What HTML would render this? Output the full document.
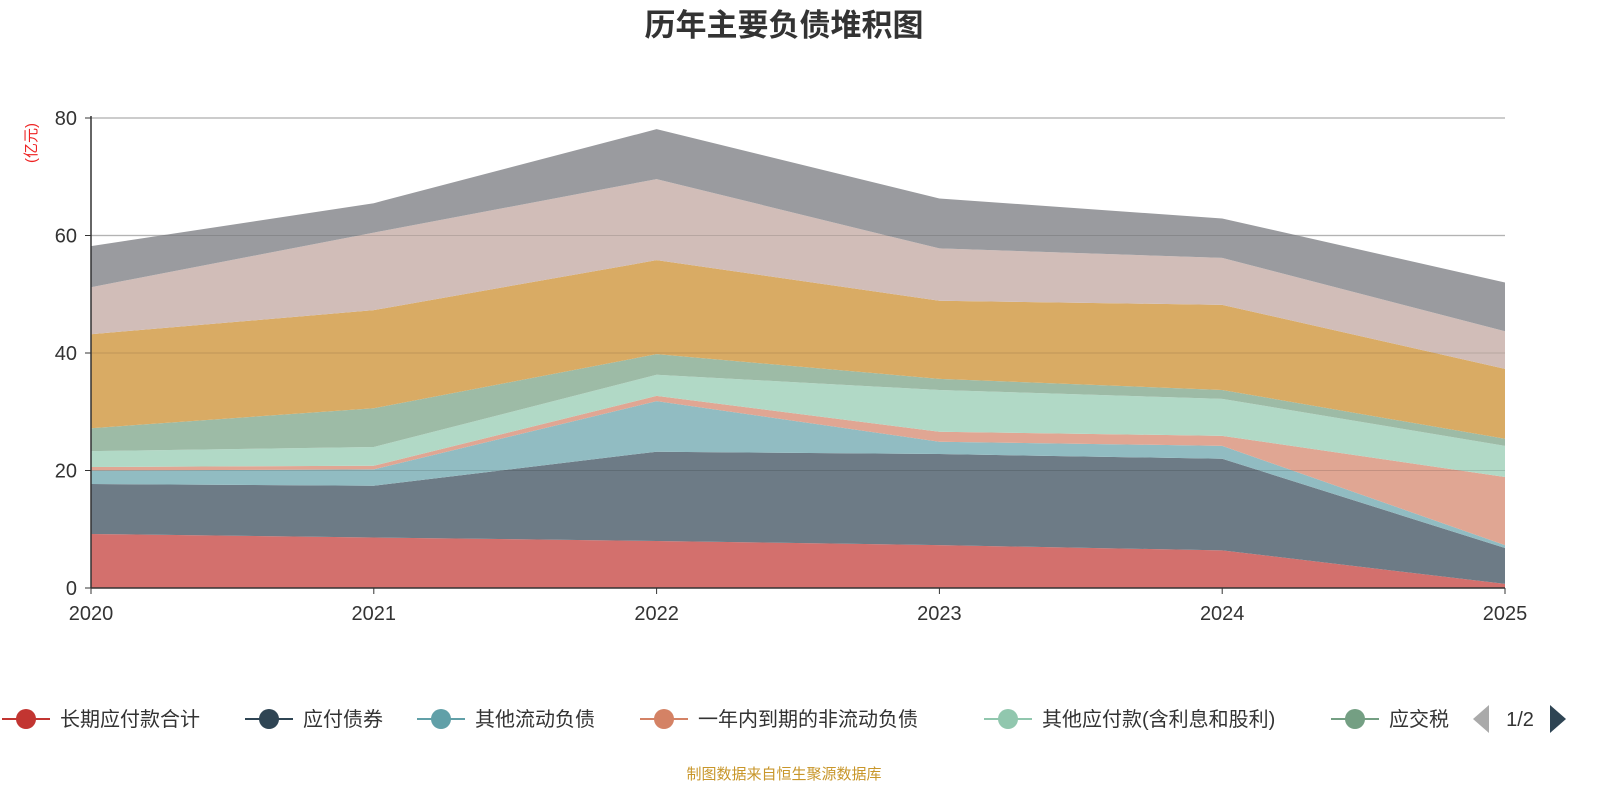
<!DOCTYPE html>
<html><head><meta charset="utf-8"><style>
body{margin:0;background:#fff;font-family:"Liberation Sans","Noto Sans CJK SC",sans-serif}
</style></head><body>
<svg id="chart" width="1600" height="800" xmlns="http://www.w3.org/2000/svg" font-family="Liberation Sans, Noto Sans CJK SC, sans-serif">
<text x="784" y="36" text-anchor="middle" font-size="31" font-weight="bold" fill="#333">历年主要负债堆积图</text>
<text transform="translate(36,143) rotate(-90)" text-anchor="middle" font-size="15" fill="#e22">(亿元)</text>
<g id="grid"></g><g id="areas"></g><g id="overlay"></g><g id="axes"></g><g id="legend"></g>
<text x="784" y="779" text-anchor="middle" font-size="15" fill="#c8962a">制图数据来自恒生聚源数据库</text>
</svg>
<script>
const years=["2020","2021","2022","2023","2024","2025"];
const yTicks=[0,20,40,60,80];
const seriesNames=["长期应付款合计","应付债券","其他流动负债","一年内到期的非流动负债","其他应付款(含利息和股利)","应交税费","应付账款","合同负债","短期借款"];
const s1=[9.2,8.6,8.0,7.3,6.4,0.7];
const s2=[8.5,8.8,15.2,15.5,15.6,6.1];
const s3=[2.3,2.8,8.6,2.1,2.2,0.5];
const s4=[0.6,0.6,0.9,1.7,1.7,11.6];
const s5=[2.7,3.2,3.6,7.1,6.3,5.3];
const s6=[3.9,6.6,3.5,1.9,1.5,1.2];
const s7=[16.0,16.7,16.0,13.3,14.5,11.9];
const s8=[8.0,13.2,13.8,8.9,8.0,6.4];
const s9=[7.0,5.0,8.5,8.5,6.7,8.3];
const seriesValues=[s1,s2,s3,s4,s5,s6,s7,s8,s9];
const fills=["#d3706d","#6d7b86","#91bcc2","#e0a693","#b1d9c6","#9dbba6","#d9ab64","#d1bdb8","#9a9b9f"];
const lineCols=["#c23531","#2f4554","#61a0a8","#d48265","#91c7ae","#749f83","#ca8622","#bda29a","#6e7074"];
const X0=91,X1=1505,Y0=588,Y1=118,YMAX=80;
const xs=i=>X0+(X1-X0)*i/(years.length-1);
const ys=v=>Y0-(Y0-Y1)*v/YMAX;
const NS="http://www.w3.org/2000/svg";
function mk(tag,attrs,parent){const e=document.createElementNS(NS,tag);for(const k in attrs)e.setAttribute(k,attrs[k]);parent.appendChild(e);return e;}
const grid=document.getElementById('grid'),areas=document.getElementById('areas'),axes=document.getElementById('axes'),overlay=document.getElementById('overlay');
yTicks.forEach(t=>{if(t===0)return;
 const l=mk('line',{x1:X0,x2:X1,y1:ys(t),y2:ys(t),stroke:'#ccc','stroke-width':1.5},grid);
 
 
 const l2=mk('line',{x1:X0,x2:X1,y1:ys(t),y2:ys(t),stroke:'rgba(0,0,0,0.12)','stroke-width':1},overlay);
 
 
});
let cum=years.map(()=>0);
seriesValues.forEach((vals,si)=>{
 const low=cum.slice();const high=cum.map((c,i)=>c+vals[i]);
 let d='M'+high.map((v,i)=>xs(i)+','+ys(v)).join(' L');
 for(let i=years.length-1;i>=0;i--)d+=' L'+xs(i)+','+ys(low[i]);
 d+='Z';
 const p=mk('path',{d:d,fill:fills[si]},areas);
 
 
 cum=high;
});
mk('line',{x1:X0,x2:X0,y1:Y1-2,y2:Y0,stroke:'#333','stroke-width':1.5},axes);
mk('line',{x1:X0,x2:X1,y1:Y0,y2:Y0,stroke:'#333','stroke-width':1.5},axes);
yTicks.forEach(t=>{
 mk('line',{x1:X0-6,x2:X0,y1:ys(t),y2:ys(t),stroke:'#333'},axes);
 const tx=mk('text',{x:X0-14,y:ys(t)+7,'text-anchor':'end','font-size':20,fill:'#333'},axes);tx.textContent=t;
 
 
});
years.forEach((y,i)=>{
 mk('line',{x1:xs(i),x2:xs(i),y1:Y0,y2:Y0+6,stroke:'#333'},axes);
 const tx=mk('text',{x:xs(i),y:Y0+32,'text-anchor':'middle','font-size':20,fill:'#333'},axes);tx.textContent=y;
 
 
});
const leg=document.getElementById('legend');
const legX=[26,269,441,664,1008,1355];
legX.forEach((cx,i)=>{
 const g=mk('g',{},leg);
 
 
 mk('line',{x1:cx-24,x2:cx+24,y1:719,y2:719,stroke:lineCols[i],'stroke-width':2},g);
 mk('circle',{cx:cx,cy:719,r:10,fill:lineCols[i]},g);
 const t=mk('text',{x:cx+34,y:726,'font-size':20,fill:'#333'},g);
 t.textContent=i===5?'应交税':seriesNames[i];
});
const pl=mk('polygon',{points:'1473,719 1489,705 1489,733',fill:'#aaa'},leg);


const pt=mk('text',{x:1520,y:726,'text-anchor':'middle','font-size':20,fill:'#333'},leg);pt.textContent='1/2';


const pr=mk('polygon',{points:'1566,719 1550,705 1550,733',fill:'#2f4554'},leg);


</script>
</body></html>
